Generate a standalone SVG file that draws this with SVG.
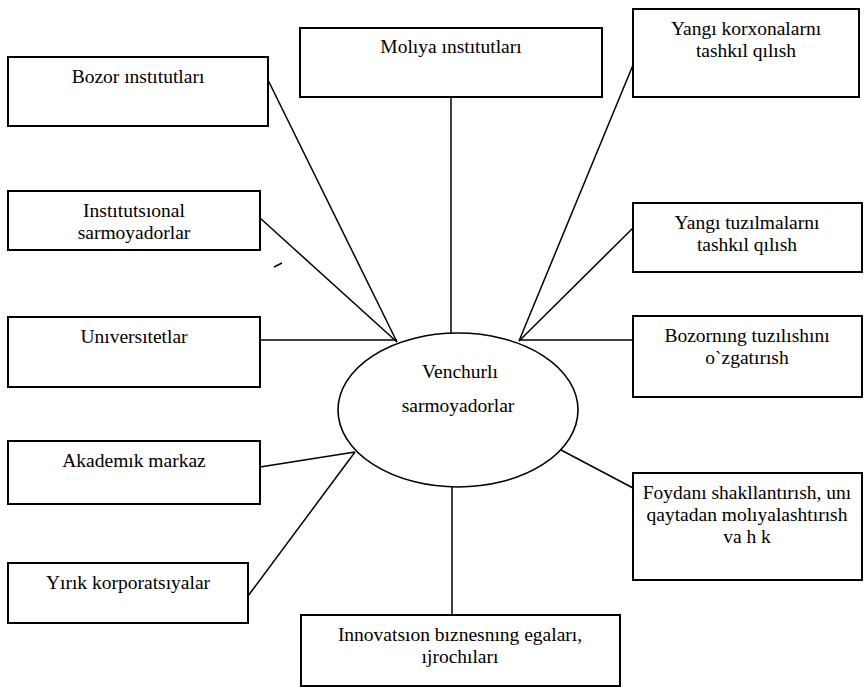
<svg xmlns="http://www.w3.org/2000/svg" width="864" height="687" viewBox="0 0 864 687">
<style>
.box{fill:#fff;stroke:#000;stroke-width:2}
.ell{fill:#fff;stroke:#000;stroke-width:1.6}
.con{fill:none;stroke:#000;stroke-width:1.5}
text{font-family:"Liberation Serif","Times New Roman",serif;font-size:19.5px;fill:#000;text-anchor:middle}
</style>
<rect width="864" height="687" fill="#fff"/>
<g id="connectors">
<line class="con" x1="268" y1="80" x2="397" y2="342"/>
<line class="con" x1="451" y1="97" x2="451" y2="334"/>
<line class="con" x1="633" y1="65" x2="519" y2="341"/>
<line class="con" x1="260" y1="218" x2="397" y2="342"/>
<line class="con" x1="260" y1="340" x2="397" y2="340"/>
<line class="con" x1="633" y1="228" x2="519" y2="341"/>
<line class="con" x1="519" y1="340" x2="633" y2="340"/>
<line class="con" x1="260" y1="467" x2="355" y2="452"/>
<line class="con" x1="248" y1="596" x2="355" y2="452"/>
<line class="con" x1="452" y1="486" x2="452" y2="615"/>
<line class="con" x1="561" y1="450" x2="633" y2="488"/>
</g>
<path d="M274 267 L282 263" stroke="#000" stroke-width="1.5"/>
<g id="n-bozor"><rect class="box" x="8" y="57" width="260" height="69"/><text x="138" y="83">Bozor ınstıtutları</text></g>
<g id="n-moliya"><rect class="box" x="300" y="28" width="302" height="69"/><text x="451" y="53">Molıya ınstıtutları</text></g>
<g id="n-korxona"><rect class="box" x="633" y="9" width="226" height="88"/><text x="746" y="35">Yangı korxonalarnı</text><text x="746" y="57">tashkıl qılısh</text></g>
<g id="n-instit"><rect class="box" x="8" y="191" width="252" height="59"/><text x="134" y="217">Instıtutsıonal</text><text x="134" y="239">sarmoyadorlar</text></g>
<g id="n-tuzilma"><rect class="box" x="633" y="203" width="229" height="69"/><text x="747" y="229">Yangı tuzılmalarnı</text><text x="747" y="251">tashkıl qılısh</text></g>
<g id="n-univ"><rect class="box" x="8" y="317" width="252" height="70"/><text x="134" y="343">Unıversıtetlar</text></g>
<g id="n-bozorning"><rect class="box" x="633" y="316" width="229" height="81"/><text x="747" y="342">Bozornıng tuzılıshını</text><text x="747" y="364">o`zgatırısh</text></g>
<g id="n-center"><ellipse class="ell" cx="458" cy="410" rx="120" ry="77"/><text x="460" y="378">Venchurlı</text><text x="458" y="412">sarmoyadorlar</text></g>
<g id="n-akademik"><rect class="box" x="8" y="441" width="252" height="63"/><text x="134" y="467">Akademık markaz</text></g>
<g id="n-yirik"><rect class="box" x="8" y="563" width="240" height="60"/><text x="128" y="589">Yırık korporatsıyalar</text></g>
<g id="n-innov"><rect class="box" x="301" y="615" width="319" height="71"/><text x="460" y="641">Innovatsıon bıznesnıng egaları,</text><text x="460" y="663">ıjrochıları</text></g>
<g id="n-foyda"><rect class="box" x="633" y="473" width="229" height="107"/><text x="747" y="499">Foydanı shakllantırısh, unı</text><text x="747" y="521">qaytadan molıyalashtırısh</text><text x="747" y="543">va h k</text></g>
</svg>
